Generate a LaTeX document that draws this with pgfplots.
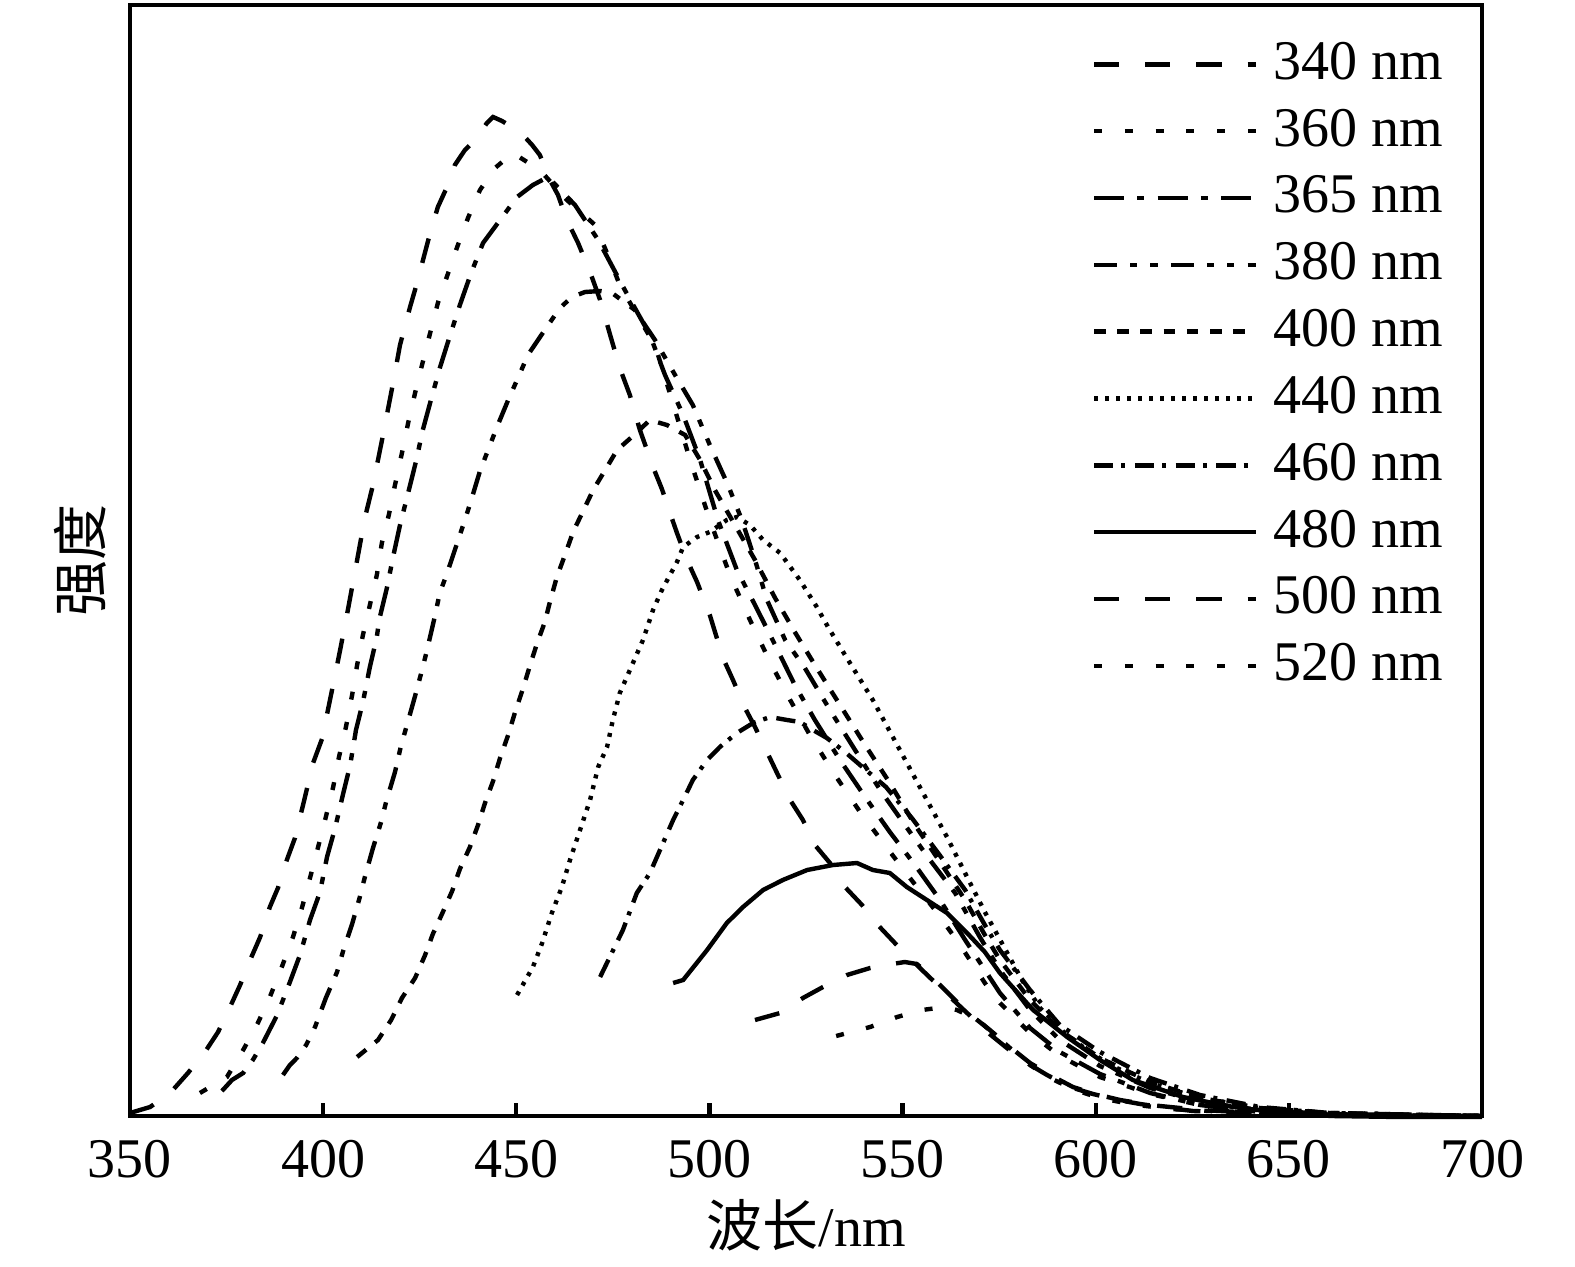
\documentclass[border=0pt]{standalone}
\usepackage{fontspec}
\setmainfont{Liberation Serif}
\newfontfamily\cjk{Noto Sans CJK SC}
\usepackage{pgfplots}
\pgfplotsset{compat=1.18}
\begin{document}
\begin{tikzpicture}[line width=1.1pt]
\useasboundingbox (-32.5pt,-37.5pt) rectangle (361.25pt,279pt);
\begin{axis}[
  at={(0,0)}, anchor=south west,
  width=338pt, height=277.75pt, scale only axis,
  xmin=350, xmax=700, ymin=0, ymax=1111,
  xtick={350,400,...,700},
  ytick=\empty,
  xtick pos=bottom, tick align=inside, major tick length=3.3pt,
  axis line style={line width=1.1pt},
  every tick/.append style={line width=1.1pt, black},
  every axis plot/.append style={line width=1.1pt},
  tick label style={font=\fontsize{14}{16}\selectfont},
  xticklabel style={yshift=-2.5pt},
  /pgf/number format/assume math mode=true,
  xlabel={{\cjk 波长}/nm}, ylabel={\cjk 强度},
  label style={font=\fontsize{14}{16}\selectfont},
  xlabel style={at={(axis description cs:0.5,-0.0981)}, anchor=center},
  ylabel style={at={(axis description cs:-0.037,0.5)}, anchor=center},
  clip=false,
  legend cell align=left,
  legend style={at={(axis description cs:0.7108,0.971)}, anchor=north west,
    draw=none, fill=none, inner sep=0pt, font=\fontsize{14}{16}\selectfont,
    nodes={inner sep=1pt}, row sep=3.9pt},
  legend image code/.code={\draw[#1,line width=1.1pt] (0pt,-0.2pt) -- (40.5pt,-0.2pt); \path (43.25pt,-0.2pt) -- (43.25pt,-0.2pt);},
]
% 340 nm
\addplot[black, mark=none, dash pattern=on 6.3pt off 6.5pt] coordinates {
(350.0,3)(355.2,9)(360.4,23)(365.0,43)(369.4,64)(372.8,84)(375.9,109)(378.5,131)(381.1,156)(383.7,179)(386.2,209)(388.3,228)(390.6,256)(392.7,278)(394.8,311)(397.4,353)(399.7,377)(402.3,426)(404.4,466)(406.4,506)(408.8,556)(410.8,598)(412.9,631)(415.5,681)(418.1,733)(419.9,771)(422.5,809)(424.3,833)(426.4,864)(427.7,883)(429.7,909)(432.3,931)(434.1,951)(436.7,966)(439.3,976)(442.4,993)(444.0,999)(446.3,995)(448.9,989)(451.5,982)(454.1,971)(456.1,961)(458.7,936)(460.8,921)(463.1,896)(466.0,873)(469.1,844)(471.7,816)(474.3,781)(476.8,748)(479.4,721)(482.0,686)(485.4,649)(487.7,627)(489.8,603)(491.6,583)(494.2,556)(496.8,534)(500.1,501)(503.5,458)(506.1,436)(509.2,408)(511.8,389)(514.9,364)(517.5,343)(520.9,316)(524.2,296)(527.3,271)(531.2,253)(535.1,229)(539.5,211)(543.6,191)(548.0,173)(554.5,148)(562.3,119)(566.7,103)(571.9,84)(577.0,68)(582.2,53)(587.4,41)(593.3,29)(599.3,22)(605.8,16)(611.5,12)(618.7,8)(625.2,5)(640.0,3)(652.9,2)(678.8,1)(700.0,0)
};
\addlegendentry{340 nm}
% 360 nm
\addplot[black, mark=none, dash pattern=on 2pt off 5.7pt] coordinates {
(368.1,23)(375.1,39)(379.3,66)(383.1,93)(386.2,119)(389.3,149)(392.2,179)(394.5,208)(396.6,238)(398.7,269)(400.7,299)(402.6,329)(404.1,359)(405.9,389)(407.5,421)(408.8,451)(410.3,481)(412.1,511)(413.9,541)(415.2,573)(417.0,601)(418.6,631)(420.4,663)(422.0,693)(423.8,723)(425.6,751)(427.7,783)(429.7,813)(432.1,840)(434.7,869)(437.5,898)(440.6,926)(444.5,948)(449.1,963)(456.1,946)(463.1,916)(470.4,891)(473.7,861)(476.8,831)(482.0,796)(485.9,771)(490.3,716)(495.0,656)(500.1,596)(505.3,541)(510.5,496)(515.7,454)(520.9,416)(526.0,381)(532.5,341)(539.0,304)(545.4,271)(551.9,238)(558.4,206)(564.9,171)(571.3,133)(575.2,113)(583.0,83)(590.7,60)(601.1,39)(614.1,22)(627.0,11)(642.5,4)(660.6,1)(700.0,0)
};
\addlegendentry{360 nm}
% 365 nm
\addplot[black, mark=none, dash pattern=on 7.5pt off 3.3pt on 1.8pt off 3.3pt] coordinates {
(373.8,25)(376.4,36)(379.3,43)(381.8,56)(384.4,73)(388.1,101)(389.6,116)(391.4,134)(394.0,161)(396.6,196)(399.2,224)(401.0,259)(403.1,288)(405.1,321)(407.0,351)(408.5,386)(410.3,414)(412.1,449)(413.9,479)(414.5,496)(416.5,528)(418.1,559)(419.9,591)(422.0,623)(424.0,654)(425.8,686)(427.9,716)(430.2,748)(432.8,780)(435.4,811)(438.3,843)(441.4,873)(445.8,896)(450.2,919)(454.3,931)(458.2,939)(465.2,911)(471.2,876)(478.1,826)(484.6,781)(488.5,741)(493.2,701)(497.6,656)(502.2,596)(507.1,546)(511.8,511)(517.0,471)(522.1,431)(527.3,396)(533.8,356)(540.3,319)(546.7,284)(553.2,251)(559.7,216)(566.2,176)(571.3,146)(575.2,123)(583.0,88)(590.7,64)(601.1,42)(614.1,23)(627.0,11)(642.5,4)(660.6,1)(700.0,0)
};
\addlegendentry{365 nm}
% 380 nm
\addplot[black, mark=none, dash pattern=on 5.8pt off 3.2pt on 1.8pt off 3.3pt on 1.8pt off 3.3pt] coordinates {
(389.6,41)(391.4,51)(393.2,58)(395.6,71)(397.9,89)(400.7,118)(403.6,144)(405.1,164)(407.5,192)(409.5,219)(410.8,239)(412.9,268)(415.0,294)(416.3,314)(418.6,344)(420.2,371)(421.7,391)(423.8,420)(425.6,446)(426.9,466)(428.7,496)(430.2,523)(432.1,543)(434.7,573)(436.7,596)(438.5,618)(440.6,645)(443.2,671)(445.0,689)(447.9,716)(451.0,743)(453.0,761)(457.2,785)(461.3,808)(464.4,819)(467.8,824)(471.7,825)(474.8,823)(480.7,806)(485.9,776)(491.1,741)(495.7,711)(500.1,671)(504.8,631)(508.4,596)(511.8,556)(514.9,516)(519.6,476)(524.7,448)(531.2,406)(537.7,366)(544.2,326)(550.6,291)(557.1,256)(563.6,223)(570.0,179)(575.2,146)(583.0,106)(590.7,76)(601.1,50)(614.1,28)(627.0,14)(642.5,6)(660.6,2)(700.0,0)
};
\addlegendentry{380 nm}
% 400 nm
\addplot[black, mark=none, dash pattern=on 2.9pt off 2.9pt] coordinates {
(408.8,59)(414.2,76)(417.6,96)(420.4,118)(423.8,138)(426.4,161)(428.4,182)(431.0,204)(433.4,225)(435.4,247)(438.0,269)(440.1,291)(441.9,313)(444.0,335)(445.8,358)(447.9,381)(449.7,404)(451.7,427)(453.5,450)(455.4,473)(457.4,494)(458.7,514)(460.5,539)(462.6,561)(464.7,584)(467.3,605)(469.9,626)(472.7,644)(476.1,666)(480.2,680)(484.6,696)(489.0,691)(493.7,681)(497.6,656)(501.4,626)(506.6,591)(511.8,556)(517.0,518)(522.1,484)(527.3,451)(533.8,411)(540.3,371)(546.7,333)(553.2,291)(559.7,254)(566.2,216)(571.3,181)(575.2,156)(583.0,116)(590.7,86)(601.1,58)(614.1,34)(627.0,18)(642.5,8)(660.6,3)(700.0,0)
};
\addlegendentry{400 nm}
% 440 nm
\addplot[black, mark=none, dash pattern=on 1pt off 1.75pt] coordinates {
(450.2,121)(454.3,149)(456.7,173)(459.2,203)(461.8,229)(463.9,256)(466.5,286)(469.1,316)(471.2,349)(473.5,369)(475.0,396)(476.8,423)(480.2,453)(482.8,476)(485.4,506)(487.7,526)(491.6,554)(493.2,569)(496.8,579)(500.1,584)(504.5,596)(507.1,599)(510.5,591)(513.9,576)(518.3,563)(523.4,536)(527.8,509)(530.7,489)(535.1,461)(542.3,416)(549.3,366)(555.3,323)(561.5,279)(566.7,239)(571.3,204)(575.7,173)(580.9,136)(585.6,108)(592.0,83)(596.7,69)(603.7,51)(614.1,33)(627.0,18)(642.5,8)(660.6,3)(700.0,0)
};
\addlegendentry{440 nm}
% 460 nm
\addplot[black, mark=none, dash pattern=on 4.8pt off 2pt on 1pt off 2.4pt] coordinates {
(471.7,139)(477.6,186)(481.2,223)(484.6,243)(487.2,266)(490.6,296)(493.2,316)(495.7,336)(499.4,356)(502.7,369)(507.1,383)(511.3,393)(515.7,399)(520.1,396)(523.4,394)(526.8,386)(530.4,378)(535.1,364)(539.0,351)(545.7,329)(552.4,298)(559.2,263)(566.2,226)(571.3,191)(575.2,166)(583.0,126)(590.7,91)(601.1,64)(614.1,38)(627.0,21)(642.5,9)(660.6,3)(700.0,0)
};
\addlegendentry{460 nm}
% 480 nm
\addplot[black, mark=none, solid] coordinates {
(490.6,133)(493.2,136)(499.4,166)(504.5,193)(508.7,209)(513.9,226)(519.0,236)(525.3,246)(532.0,251)(538.2,253)(542.3,246)(546.7,243)(551.1,229)(556.3,216)(561.5,203)(566.7,183)(571.3,164)(575.2,143)(583.8,106)(592.6,79)(601.1,56)(609.6,36)(622.6,19)(635.5,9)(648.5,3)(661.1,0)(678.8,-1)(700.0,-1)
};
\addlegendentry{480 nm}
% 500 nm
\addplot[black, mark=none, dash pattern=on 6.3pt off 6.5pt] coordinates {
(511.8,96)(518.3,103)(524.2,118)(529.4,129)(535.6,141)(541.6,148)(547.3,152)(550.6,154)(553.7,152)(557.9,138)(562.3,121)(566.7,104)(572.6,86)(577.8,69)(583.0,53)(588.2,41)(594.1,29)(599.8,22)(606.3,16)(614.1,11)(627.0,6)(642.5,3)(665.8,1)(700.0,0)
};
\addlegendentry{500 nm}
% 520 nm
\addplot[black, mark=none, dash pattern=on 2pt off 5.7pt] coordinates {
(532.8,80)(541.6,89)(548.6,99)(555.0,106)(561.0,109)(564.1,106)(569.5,96)(573.4,83)(577.8,68)(583.0,51)(588.2,38)(594.6,26)(601.1,18)(608.9,12)(619.2,7)(634.8,4)(658.1,1)(700.0,0)
};
\addlegendentry{520 nm}
\end{axis}
\end{tikzpicture}
\end{document}
